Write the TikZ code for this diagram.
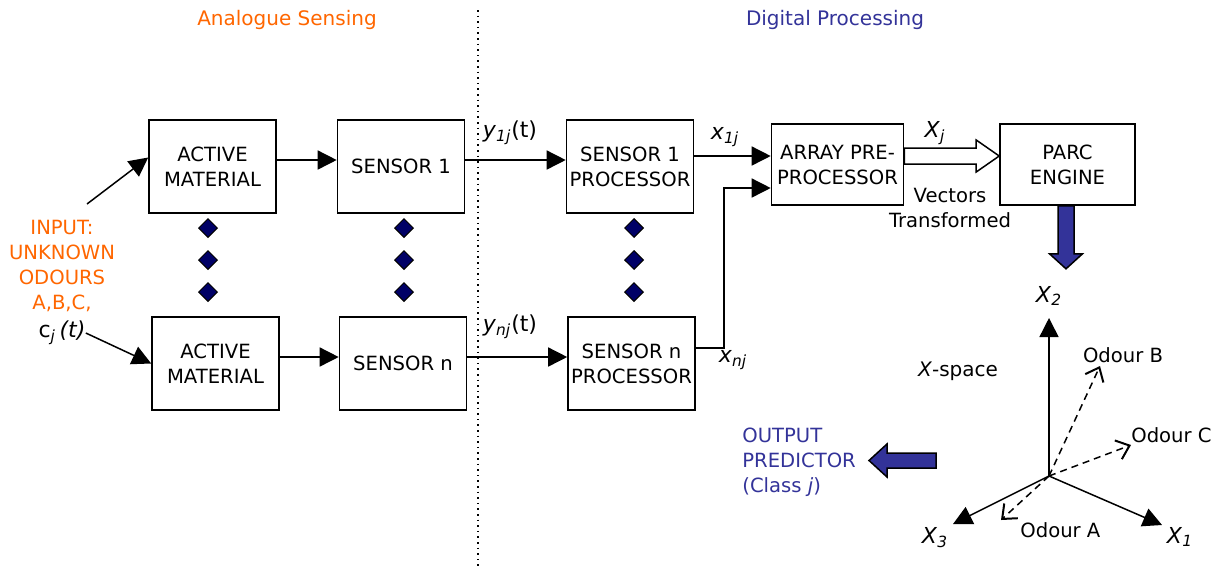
\documentclass[tikz,border=0pt]{standalone}
\usepackage{fontspec}
\setmainfont{DejaVu Sans}
\usepackage{xcolor}
\definecolor{orangetext}{HTML}{FF6600}
\definecolor{navytext}{HTML}{333399}
\definecolor{dotfill}{HTML}{000066}
\definecolor{fatfill}{HTML}{333399}
\usetikzlibrary{arrows.meta, positioning, calc, shapes.geometric}

\begin{document}
\begin{tikzpicture}[
        x=0.5pt, y=-0.5pt,
        font=\fontsize{9.8}{12.5}\selectfont,
        box_node/.style={rectangle, draw, line width=0.8pt, minimum width=63.5pt, minimum height=46.5pt, align=center, inner sep=0pt},
        wide_node/.style={box_node, minimum width=66pt, minimum height=40.5pt},
        dot_node/.style={diamond, draw, fill=dotfill, line width=0.5pt, minimum size=9.5pt, inner sep=0pt},
        label_node/.style={inner sep=0pt, font=\fontsize{11}{12.5}\selectfont},
        arrow/.style={-{Triangle[length=9.5pt, width=9.5pt]}, line width=0.75pt},
        dash_arrow/.style={-{Straight Barb[length=6pt, width=10pt, line width=1pt]}, dash pattern=on 3.5pt off 2.5pt, line width=0.75pt},
        fat_arrow/.style={draw, line width=0.75pt, fill=fatfill},
        hollow_arrow/.style={draw, line width=0.75pt, fill=white}
    ]
    \useasboundingbox (0,0) rectangle (1214,569);

    % Titles and divider
    \node[text=orangetext, font=\fontsize{10}{12}\selectfont] (analogue) at (287,20) {Analogue Sensing};
    \node[text=navytext, font=\fontsize{10}{12}\selectfont] (digital) at (835,20) {Digital Processing};
    \draw[dotted, line width=0.8pt] (478,10) -- (478,569);

    % Sensing chain
    \node[box_node] (am1) at (212.5,166.5) {ACTIVE\\MATERIAL};
    \node[box_node] (s1) at (401,166.5) {SENSOR 1};
    \node[box_node] (am2) at (215.5,363.5) {ACTIVE\\MATERIAL};
    \node[box_node] (sn) at (403,363.5) {SENSOR n};

    % Processors
    \node[box_node] (s1p) at (630,166.5) {SENSOR 1\\PROCESSOR};
    \node[box_node] (snp) at (631.5,363.5) {SENSOR n\\PROCESSOR};
    \node[wide_node] (arr) at (837.5,164.5) {ARRAY PRE-\\PROCESSOR};
    \node[wide_node, minimum width=67.5pt] (parc) at (1067.5,164.5) {PARC\\ENGINE};

    % Ellipsis diamonds
    \foreach \px/\nm in {208/am, 404/s, 634/p}
        \foreach \py/\k in {228/1, 260/2, 292/3}
            \node[dot_node] (dot_\nm\k) at (\px,\py) {};

    % Input
    \node[text=orangetext, align=center] (input) at (62,266) {INPUT:\\UNKNOWN\\ODOURS\\A,B,C,};
    \node[label_node] (cj) at (62,333) {c\textsubscript{\textit{j}}\,\textit{(t)}};
    \coordinate (in_top) at (87,204);
    \draw[arrow] (in_top) -- ([yshift=4.5pt]am1.west);
    \draw[arrow] (cj.east) -- (am2.west);

    % Connections
    \draw[arrow] ([yshift=3.25pt]am1.east) -- ([yshift=3.25pt]s1.west);
    \draw[arrow] ([yshift=3.25pt]am2.east) -- ([yshift=3.25pt]sn.west);
    \draw[arrow] ([yshift=3.25pt]s1.east) -- ([yshift=3.25pt]s1p.west);
    \draw[arrow] ([yshift=3.25pt]sn.east) -- ([yshift=3.25pt]snp.west);
    \draw[arrow] ([yshift=5.25pt]s1p.east) -- ([yshift=5.25pt]s1p.east -| arr.west);
    \draw[arrow] ([yshift=7.75pt]snp.east) -- ++(28,0) |- ([yshift=-11.75pt]arr.west);

    \node[label_node] (y1) at (510,133) {\textit{y}\textsubscript{\textit{1j}}(t)};
    \node[label_node] (yn) at (510,327) {\textit{y}\textsubscript{\textit{nj}}(t)};
    \node[label_node] (x1j) at (725,137) {\textit{x}\textsubscript{\textit{1j}}};
    \node[label_node] (xnj) at (733,360) {\textit{x}\textsubscript{\textit{nj}}};

    % Transformed vectors
    \coordinate (xj_start) at ([yshift=4.25pt]arr.east);
    \coordinate (xj_end) at (xj_start -| parc.west);
    \draw[hollow_arrow] ($(xj_start)+(0,-8)$) -- ($(xj_end)+(-23,-8)$) -- ($(xj_end)+(-23,-16)$) -- (xj_end)
        -- ($(xj_end)+(-23,16)$) -- ($(xj_end)+(-23,8)$) -- ($(xj_start)+(0,8)$) -- cycle;
    \node[label_node] (xj) at (935,133) {\textit{X}\textsubscript{\textit{j}}};
    \node[align=center] (vectors) at (950,208) {Vectors\\Transformed};

    % PARC output
    \draw[fat_arrow] ($(parc.south)+(-9.5,0)$) -- ++(0,48) -- ++(-8.5,0) -- ($(parc.south)+(-1.5,63)$)
        -- ($(parc.south)+(15,48)$) -- ++(-8.5,0) -- ($(parc.south)+(6.5,0)$) -- cycle;

    % X-space axes
    \coordinate (origin) at (1049,476);
    \coordinate (x1_tip) at (1162,525);
    \coordinate (x2_tip) at (1049,318);
    \coordinate (x3_tip) at (953,524);
    \draw[arrow] (origin) -- (x1_tip);
    \draw[arrow] (origin) -- (x2_tip);
    \draw[arrow] (origin) -- (x3_tip);
    \node[label_node] (x1_label) at (1180,537) {\textit{X}\textsubscript{\textit{1}}};
    \node[label_node] (x2_label) at (1049,296) {\textit{X}\textsubscript{\textit{2}}};
    \node[label_node] (x3_label) at (935,538) {\textit{X}\textsubscript{\textit{3}}};
    \node[label_node, font=\fontsize{10}{12}\selectfont] (xspace) at (958,371) {\textit{X}-space};

    % Odour vectors
    \coordinate (oda_tip) at (1001,520);
    \coordinate (odb_tip) at (1100,366);
    \coordinate (odc_tip) at (1131,445);
    \draw[dash_arrow] (origin) -- (oda_tip);
    \draw[dash_arrow] (origin) -- (odb_tip);
    \draw[dash_arrow] (origin) -- (odc_tip);
    \node[inner sep=0pt, anchor=west] (oda) at (1020,530) {Odour A};
    \node[inner sep=0pt] (odb) at (1123,355) {Odour B};
    \node[inner sep=0pt, anchor=east] (odc) at (1212,435) {Odour C};

    % Output predictor
    \node[text=navytext, align=left, anchor=west, inner sep=0pt] (output) at (742,462) {OUTPUT\\PREDICTOR\\(Class \textit{j})};
    \coordinate (out_tip) at (869,460.5);
    \draw[fat_arrow] (out_tip) -- ++(18,-16.5) -- ++(0,9) -- ++(49,0) -- ++(0,15) -- ++(-49,0) -- ++(0,9) -- cycle;

\end{tikzpicture}
\end{document}
